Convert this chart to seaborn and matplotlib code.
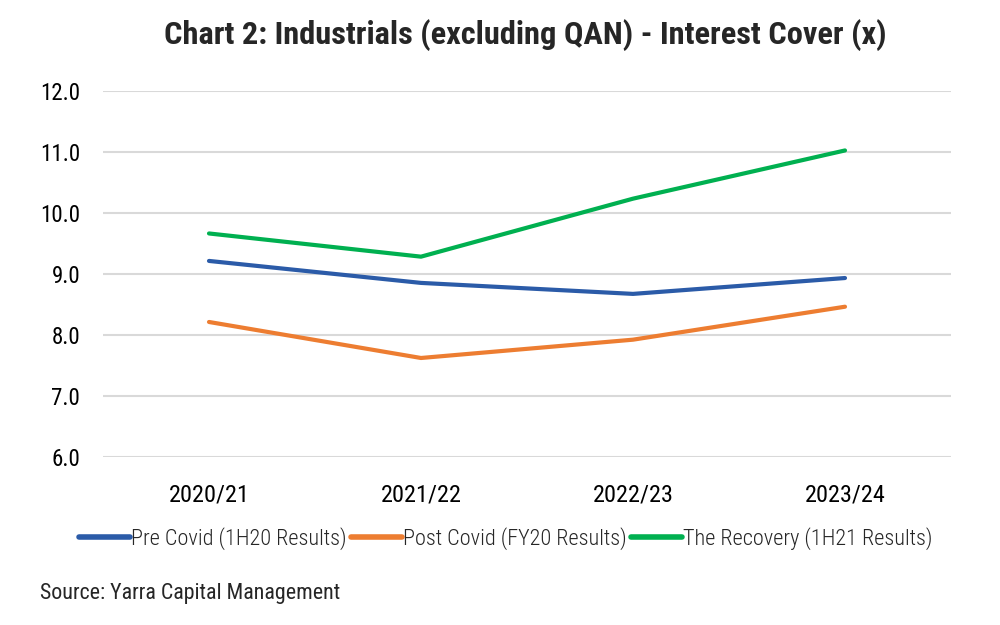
import pandas as pd
import seaborn as sns
import matplotlib.pyplot as plt

years = ["2020/21", "2021/22", "2022/23", "2023/24"]
pre_covid = [9.21, 8.85, 8.67, 8.93]
post_covid = [8.21, 7.62, 7.92, 8.46]
recovery = [9.66, 9.28, 10.23, 11.02]

series_names = ["Pre Covid (1H20 Results)", "Post Covid (FY20 Results)", "The Recovery (1H21 Results)"]
colors = ["#2B5BA8", "#ED7D31", "#00B050"]

# long form table for seaborn
df = pd.DataFrame({
    "Year": years * 3,
    "Cover": pre_covid + post_covid + recovery,
    "Series": [s for s in series_names for _ in years],
})

sns.set_style("white")
plt.rcParams["font.family"] = ["Roboto Condensed", "Liberation Sans Narrow", "Roboto", "DejaVu Sans"]

fig = plt.figure(figsize=(10, 6.25), dpi=100)
ax = fig.add_axes([0.103, 0.269, 0.848, 0.586])

sns.lineplot(data=df, x="Year", y="Cover", hue="Series", palette=colors,
             linewidth=3, sort=False, ax=ax, legend=True)

ax.set_ylim(6, 12)
ax.set_xlim(-0.5, 3.5)
ax.set_yticks([6, 7, 8, 9, 10, 11, 12])
ax.set_yticklabels([f"{v:.1f}" for v in range(6, 13)])
ax.yaxis.grid(True, color="#D9D9D9", linewidth=1.5)
ax.set_axisbelow(True)
for s in ax.spines.values():
    s.set_visible(False)
ax.tick_params(axis="both", length=0, colors="#000000")
ax.tick_params(axis="y", pad=16.5, labelsize=16.5)
ax.tick_params(axis="x", pad=19, labelsize=17.5)
ax.set_xlabel("")
ax.set_ylabel("")

leg = ax.legend(loc="upper center", bbox_to_anchor=(0.475, -0.138), ncol=3, frameon=False,
                prop={"size": 16, "weight": "light"}, handlelength=2.3,
                handletextpad=0.05, columnspacing=0.2)
for line in leg.get_lines():
    line.set_linewidth(4)

fig.text(0.525, 0.944, "Chart 2: Industrials (excluding QAN) - Interest Cover (x)",
         ha="center", va="center", fontsize=23.3, fontweight="bold")
fig.text(0.04, 0.05, "Source: Yarra Capital Management", ha="left", va="center", fontsize=15.8)

plt.savefig("out.png", dpi=100)
